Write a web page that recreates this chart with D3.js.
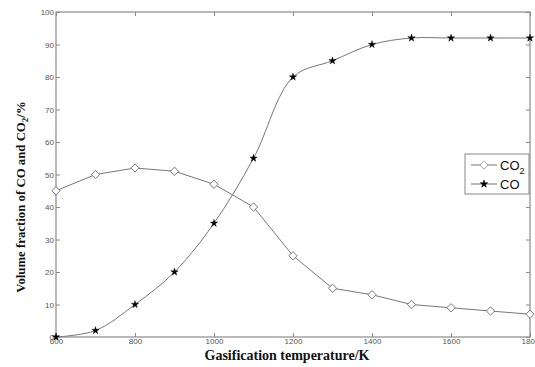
<!DOCTYPE html>
<html>
<head>
<meta charset="utf-8">
<script src="https://cdn.jsdelivr.net/npm/d3@7"></script>
<style>
  body { margin: 0; background: #fff; }
  svg { display: block; }
  .tick text { font-family: Arial, "Liberation Sans", sans-serif; font-size: 8px; fill: #555; }
  .axis-title { font-family: "Liberation Serif", "Times New Roman", serif; font-weight: bold; fill: #111; }
</style>
</head>
<body>
<svg id="chart" width="535" height="367"></svg>
<script>
// gasification temperature (K)
var temps = [600, 700, 800, 900, 1000, 1100, 1200, 1300, 1400, 1500, 1600, 1700, 1800];
// volume fractions (%)
var co2Vals = [45, 50, 52, 51, 47, 40, 25, 15, 13, 10, 9, 8, 7];
var coVals = [0, 2, 10, 20, 35, 55, 80, 85, 90, 92, 92, 92, 92];
var xTicks = [600, 800, 1000, 1200, 1400, 1600, 1800];
var yTicks = [0, 10, 20, 30, 40, 50, 60, 70, 80, 90, 100];

var padL = 56, padR = 530, padT = 12, padB = 337;
var axisCol = "#8a8a8a", lineCol = "#777";

var svg = d3.select("#chart");

var x = d3.scaleLinear().domain([600, 1800]).range([padL, padR]);
var y = d3.scaleLinear().domain([0, 100]).range([padB, padT]);

// frame
svg.append("rect")
  .attr("x", padL).attr("y", padT)
  .attr("width", padR - padL).attr("height", padB - padT)
  .attr("fill", "none").attr("stroke", axisCol).attr("stroke-width", 1.2);

// axes with inward ticks
var xAxis = svg.append("g")
  .attr("transform", "translate(0," + padB + ")")
  .call(d3.axisBottom(x).tickValues(xTicks).tickFormat(d3.format("d")).tickSizeInner(-4).tickSizeOuter(0).tickPadding(3));
var xTop = svg.append("g")
  .attr("transform", "translate(0," + padT + ")")
  .call(d3.axisTop(x).tickValues(xTicks).tickSizeInner(-4).tickSizeOuter(0).tickFormat(""));
var yAxis = svg.append("g")
  .attr("transform", "translate(" + padL + ",0)")
  .call(d3.axisLeft(y).tickValues(yTicks).tickSizeInner(-4).tickSizeOuter(0).tickPadding(2));
var yRight = svg.append("g")
  .attr("transform", "translate(" + padR + ",0)")
  .call(d3.axisRight(y).tickValues(yTicks).tickSizeInner(-4).tickSizeOuter(0).tickFormat(""));

[xAxis, xTop, yAxis, yRight].forEach(function(g){
  g.select(".domain").remove();
  g.selectAll(".tick line").attr("stroke", axisCol);
});
xAxis.selectAll(".tick text").attr("dy", "0.55em");

// lines: CO2 straight segments, CO smoothed
var lineStraight = d3.line()
  .x(function(d){ return x(d[0]); })
  .y(function(d){ return y(d[1]); });
var lineSmooth = d3.line()
  .x(function(d){ return x(d[0]); })
  .y(function(d){ return y(d[1]); })
  .curve(d3.curveCatmullRom.alpha(0.5));

var co2Data = temps.map(function(t, i){ return [t, co2Vals[i]]; });
var coData = temps.map(function(t, i){ return [t, coVals[i]]; });

svg.append("path").datum(co2Data)
  .attr("d", lineStraight).attr("fill", "none").attr("stroke", lineCol).attr("stroke-width", 1);
svg.append("path").datum(coData)
  .attr("d", lineSmooth).attr("fill", "none").attr("stroke", lineCol).attr("stroke-width", 1);

var diamond = d3.symbol().type(d3.symbolDiamond2).size(44);
var star = d3.symbol().type(d3.symbolStar).size(17);

svg.selectAll(".co2-pt")
  .data(co2Data)
  .enter()
  .append("path")
  .attr("class", "co2-pt")
  .attr("transform", function(d){ return "translate(" + x(d[0]) + "," + y(d[1]) + ")"; })
  .attr("d", diamond)
  .attr("fill", "#fff").attr("stroke", "#666").attr("stroke-width", 0.9);

svg.selectAll(".co-pt")
  .data(coData)
  .enter()
  .append("path")
  .attr("class", "co-pt")
  .attr("transform", function(d){ return "translate(" + x(d[0]) + "," + y(d[1]) + ")"; })
  .attr("d", star)
  .attr("fill", "#000").attr("stroke", "#000").attr("stroke-width", 0.4);

// legend
var legend = svg.append("g").attr("transform", "translate(465,154)");
legend.append("rect")
  .attr("width", 64).attr("height", 40)
  .attr("fill", "#fff").attr("stroke", axisCol).attr("stroke-width", 1);

var legItems = [
  {name: "CO", sub: "2", sym: diamond, fill: "#fff", stroke: "#666", y: 11},
  {name: "CO", sub: "", sym: star, fill: "#000", stroke: "#000", y: 30}
];
legItems.forEach(function(it){
  legend.append("line")
    .attr("x1", 6).attr("x2", 32).attr("y1", it.y).attr("y2", it.y)
    .attr("stroke", lineCol).attr("stroke-width", 1);
  legend.append("path")
    .attr("transform", "translate(19," + it.y + ")")
    .attr("d", it.sym)
    .attr("fill", it.fill).attr("stroke", it.stroke).attr("stroke-width", 0.6);
  var t = legend.append("text")
    .attr("x", 35).attr("y", it.y + 4.5)
    .attr("font-family", "Arial, 'Liberation Sans', sans-serif")
    .attr("font-size", 13).attr("fill", "#111")
    .text(it.name);
  if (it.sub) {
    t.append("tspan").attr("font-size", 9).attr("dy", 4).text(it.sub);
  }
});

// axis titles
svg.append("text")
  .attr("class", "axis-title")
  .attr("x", 287).attr("y", 360)
  .attr("text-anchor", "middle")
  .attr("font-size", 14)
  .text("Gasification temperature/K");

var yt = svg.append("text")
  .attr("class", "axis-title")
  .attr("transform", "translate(25,197) rotate(-90)")
  .attr("text-anchor", "middle")
  .attr("font-size", 12.8);
yt.append("tspan").text("Volume fraction of CO and CO");
yt.append("tspan").attr("font-size", 9).attr("dy", 3).text("2");
yt.append("tspan").attr("dy", -3).text("/%");
</script>
</body>
</html>
